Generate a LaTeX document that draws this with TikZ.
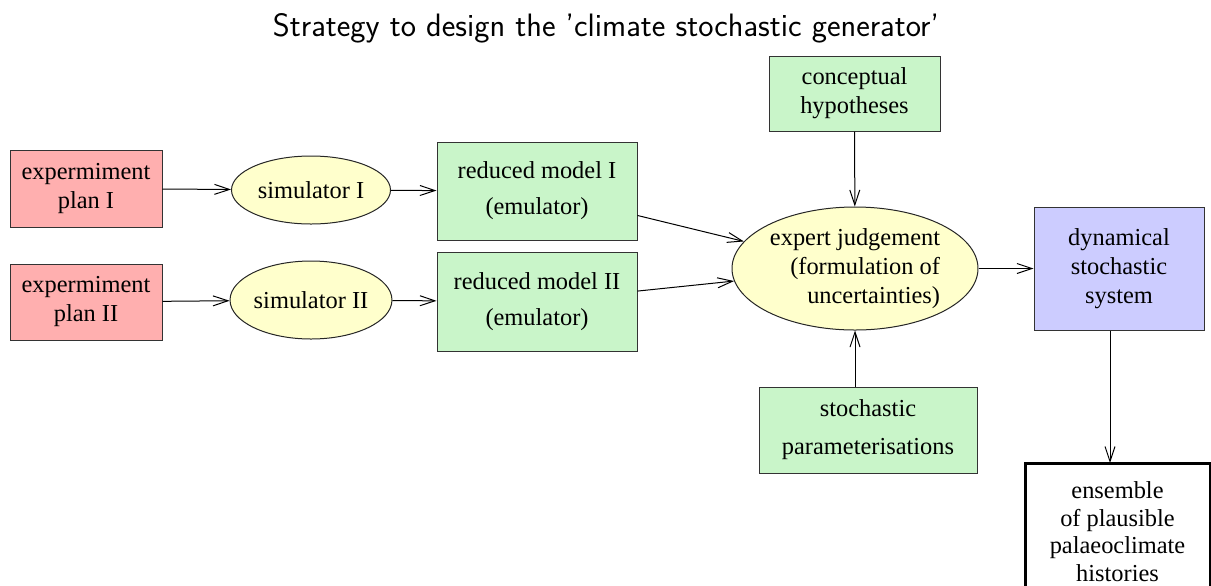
\documentclass[tikz,border=0pt]{standalone}
\usepackage{fontspec}
\setmainfont{Liberation Serif}
\usepackage{xcolor}
\usetikzlibrary{calc}
\usetikzlibrary{positioning}
\usetikzlibrary{shapes.geometric}
\usetikzlibrary{arrows.meta}

\definecolor{planred}{RGB}{255,175,175}
\definecolor{modelgreen}{RGB}{201,245,201}
\definecolor{simyellow}{RGB}{255,255,204}
\definecolor{dynblue}{RGB}{204,204,255}

\begin{document}
\begin{tikzpicture}[x=0.5pt,y=-0.5pt,
  font=\fontsize{12.2}{14.5}\selectfont,
  box/.style={draw=black!80,line width=0.5pt,rectangle,align=center,inner sep=1pt},
  blob/.style={draw=black!85,line width=0.5pt,ellipse,fill=simyellow,inner sep=0pt},
  arr/.style={-{Straight Barb[length=7.5pt,width=5pt]},line width=0.5pt}]
\useasboundingbox (0,0) rectangle (1211,585);
\clip (0,0) rectangle (1211,585);

\node[font=\sffamily\fontsize{16.2}{19}\selectfont] (title) at (606,28) {Strategy to design the 'climate stochastic generator'};

\node[box,fill=planred,minimum width=76pt,minimum height=38.5pt] (plan1) at (86,188.5) {expermiment\\plan I};
\node[box,fill=planred,minimum width=76pt,minimum height=38pt] (plan2) at (86,302) {expermiment\\plan II};

\node[blob,minimum width=79.5pt,minimum height=34pt] (sim1) at (311,190) {simulator I};
\node[blob,minimum width=79.5pt,minimum height=39pt] (sim2) at (311,300) {simulator II};

\node[box,fill=modelgreen,minimum width=100pt,minimum height=49pt] (red1) at (537,191) {reduced model I\\[3.5pt](emulator)};
\node[box,fill=modelgreen,minimum width=100pt,minimum height=49.5pt] (red2) at (537,301.5) {reduced model II\\[3.5pt](emulator)};

\node[box,fill=modelgreen,minimum width=85.5pt,minimum height=37.5pt] (hyp) at (854.5,93.5) {conceptual\\hypotheses};
\node[blob,align=right,minimum width=123pt,minimum height=61.5pt] (judge) at (855,268.5) {expert judgement\\(formulation of\\uncertainties)};
\node[box,fill=modelgreen,minimum width=109pt,minimum height=43pt] (param) at (868,430) {stochastic\\[4.5pt]parameterisations};

\node[box,fill=dynblue,minimum width=85pt,minimum height=61.5pt] (dyn) at (1119,268.5) {dynamical\\stochastic\\system};
\node[box,draw=black,line width=1.5pt,minimum width=92.5pt,minimum height=68.5pt] (ens) at (1117.5,531.5) {ensemble\\[-0.7pt]of plausible\\[-0.7pt]palaeoclimate\\[-0.7pt]histories};
\coordinate (ensin) at (1110,463);

\draw[arr] (plan1) -- (sim1);
\draw[arr] (plan2) -- (sim2);
\draw[arr] (sim1) -- (red1);
\draw[arr] (sim2) -- (red2);
\draw[arr] (red1) -- (judge);
\draw[arr] (red2) -- (judge);
\draw[arr] (hyp) -- (judge);
\draw[arr] (param.north -| judge.south) -- (judge.south);
\draw[arr] (judge) -- (dyn);
\draw[arr] (dyn.south -| ensin) -- (ensin);

\end{tikzpicture}
\end{document}
